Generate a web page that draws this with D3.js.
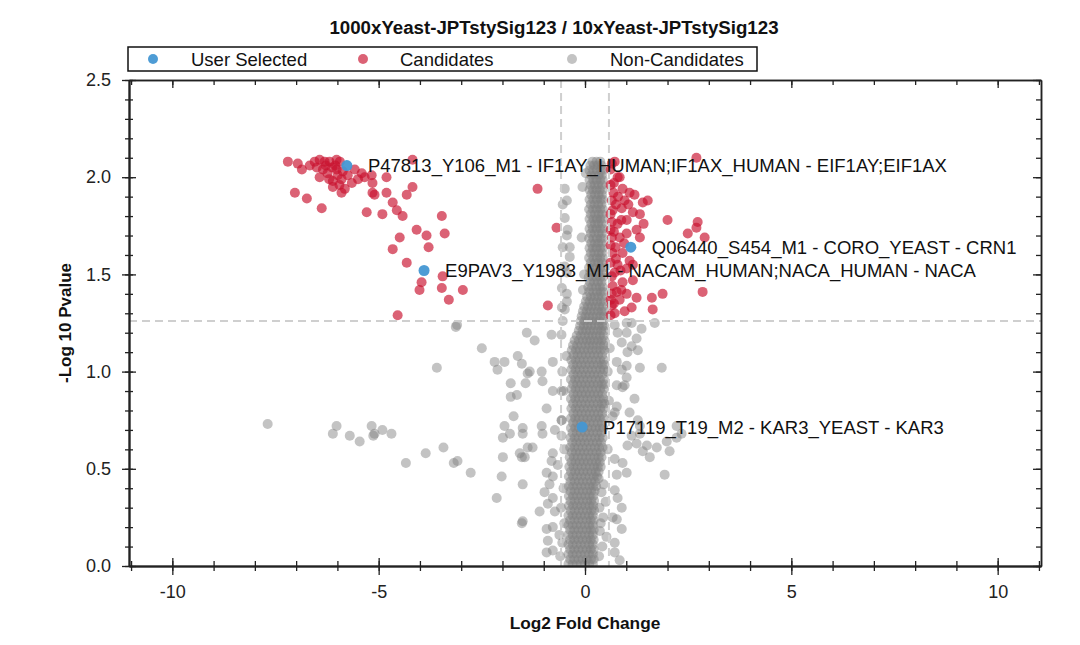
<!DOCTYPE html>
<html>
<head>
<meta charset="utf-8">
<script src="https://cdn.jsdelivr.net/npm/d3@7"></script>
<style>
  body { margin: 0; background: #fff; }
  svg { display: block; font-family: "Liberation Sans", Arial, sans-serif; }
</style>
</head>
<body>
<svg id="chart" width="1080" height="645"></svg>
<script>
// ---- data ----
const chartTitle = "1000xYeast-JPTstySig123 / 10xYeast-JPTstySig123";
const xLabel = "Log2 Fold Change";
const yLabel = "-Log 10 Pvalue";
const legendLabels = ["User Selected", "Candidates", "Non-Candidates"];

const xDomain = [-11.05, 11.05];
const yDomain = [0, 2.5];
const xTickValues = [-10, -5, 0, 5, 10];
const xMinorTicks = d3.range(-11, 12, 1);
const yTickValues = [0, 0.5, 1.0, 1.5, 2.0, 2.5];
const yMinorTicks = d3.range(0, 26, 1).map(d => d / 10);

const foldCut = 0.58;   // log2 fold change threshold
const pCut = 1.26;      // -log10 p threshold

const userSelected = [
  { x: -5.77, y: 2.06, label: "P47813_Y106_M1 - IF1AY_HUMAN;IF1AX_HUMAN - EIF1AY;EIF1AX" },
  { x: 1.11, y: 1.64, label: "Q06440_S454_M1 - CORO_YEAST - CRN1" },
  { x: -3.90, y: 1.52, label: "E9PAV3_Y1983_M1 - NACAM_HUMAN;NACA_HUMAN - NACA" },
  { x: -0.07, y: 0.715, label: "P17119_T19_M2 - KAR3_YEAST - KAR3" }
];

const candidatesLeft = [
  [-7.20,2.08],[-6.96,2.07],[-6.86,2.04],[-6.67,2.06],[-6.55,2.08],[-6.43,2.09],[-6.31,2.08],[-6.19,2.08],[-6.02,2.09],[-5.94,2.08],
  [-6.50,2.05],[-6.35,2.04],[-6.13,2.05],[-6.02,2.04],[-5.87,2.03],[-6.24,2.02],[-5.99,2.01],[-5.75,2.01],[-5.65,1.97],
  [-6.28,2.06],[-6.05,2.06],[-6.20,1.99],[-5.95,1.96],[-5.50,1.99],
  [-6.43,2.00],[-6.11,1.98],[-5.90,1.99],
  [-5.58,2.04],[-5.41,2.02],[-5.34,2.00],[-5.17,2.01],[-5.15,1.97],[-4.81,2.00],
  [-6.11,1.95],[-5.82,1.94],[-5.90,1.92],
  [-7.03,1.92],[-6.74,1.89],[-6.38,1.84],
  [-5.15,1.92],[-5.10,1.91],
  [-4.81,1.92],[-4.32,1.91],[-4.18,1.95],[-4.18,2.09],
  [-5.29,1.82],[-4.91,1.81],[-4.66,1.87],[-4.56,1.83],[-4.42,1.80],
  [-3.47,1.80],
  [-4.08,1.73],[-3.84,1.70],[-3.40,1.71],
  [-4.49,1.69],[-4.66,1.63],[-3.79,1.64],
  [-4.32,1.56],
  [-3.96,1.46],[-4.01,1.42],
  [-3.45,1.49],[-3.47,1.43],[-2.96,1.42],[-3.30,1.37],
  [-4.54,1.29],
  [-1.15,1.94],[-0.69,1.74],[-0.90,1.34]
];

const candidatesRight = [
  [2.70,2.10],[2.00,1.78],[2.73,1.77],[2.70,1.74],[2.49,1.71],[2.90,1.69],
  [2.85,1.41],[1.88,1.40],[1.62,1.38],[1.64,1.32],
  [0.65,2.07],[0.72,2.08],[0.79,2.00],[0.91,1.94],[1.08,1.92],[1.20,1.91],[1.40,1.87],[0.96,1.88],[0.65,1.88],[0.67,1.83],
  [0.89,1.84],[1.16,1.82],[1.33,1.81],[1.01,1.78],[0.79,1.76],[0.65,1.77],[1.25,1.73],[1.01,1.71],[0.84,1.69],[0.65,1.69],
  [1.33,1.69],[0.67,1.61],[0.91,1.61],[1.08,1.57],[1.01,1.53],[0.72,1.51],[0.65,1.49],[1.16,1.47],[0.91,1.46],[0.67,1.44],
  [0.65,1.40],[1.01,1.40],[1.25,1.38],[0.84,1.37],[0.65,1.34],[1.13,1.33],[0.72,1.30],[0.96,1.31],
  [0.62,2.04],[0.62,1.96],[0.69,1.92],[0.62,1.81],[0.62,1.65],[0.74,1.64],[0.62,1.56],[0.79,1.55],[0.62,1.37],[0.62,1.29],
  [0.84,2.00],[0.62,1.73],[0.77,1.41],[1.42,1.76],[1.52,1.88],[1.16,1.55],
  [0.70,1.97],[0.75,1.86],[0.88,1.78],[0.70,1.72],[0.86,1.52],[0.75,1.58],[0.95,1.66],[0.70,1.35],[0.88,1.42],[1.05,1.86],
  [0.80,1.90]
];

// scattered non-candidates
const nonCandidates = [
  [-7.69,0.73],[-6.02,0.72],[-6.11,0.68],[-5.70,0.67],[-5.46,0.64],[-5.17,0.72],[-5.13,0.67],[-5.10,0.68],[-4.91,0.70],[-4.69,0.68],
  [-4.34,0.53],[-3.86,0.58],[-3.43,0.61],[-3.18,0.53],[-3.09,0.54],[-2.77,0.48],
  [-3.59,1.02],[-2.50,1.12],[-3.13,1.23],[-3.10,1.24],
  [-2.19,1.05],[-1.95,1.05],[-2.12,1.01],[-1.63,1.08],[-1.53,1.04],[-1.41,1.20],[-1.39,0.99],
  [-1.80,0.94],[-1.65,0.88],[-1.80,0.87],[-1.44,0.94],
  [-1.73,0.77],[-1.95,0.72],[-1.99,0.66],[-1.82,0.68],[-1.51,0.71],[-1.51,0.68],
  [-1.58,0.58],[-1.53,0.56],[-1.39,0.61],[-1.99,0.56],[-2.02,0.46],[-1.51,0.42],[-2.14,0.35],[-1.51,0.23],[-1.53,0.22],
  [-1.22,1.16],[-0.81,1.19],[-0.57,1.19],[-0.78,1.05],[-1.34,1.00],[-1.05,1.00],[-1.03,0.95],[-0.78,0.90],[-0.57,0.90],
  [-0.93,0.81],[-1.05,0.72],[-1.03,0.68],[-0.73,0.70],[-0.57,0.75],[-0.57,0.67],[-1.27,0.61],[-1.46,0.56],[-0.78,0.58],
  [-0.81,0.54],[-0.93,0.48],[-0.78,0.46],[-0.86,0.42],[-0.98,0.38],[-0.78,0.35],[-0.90,0.32],[-0.73,0.28],[-1.10,0.28],
  [-0.93,0.19],[-0.78,0.20],[-0.90,0.13],[-0.78,0.08],[-0.93,0.07],
  [0.72,1.24],[1.01,1.25],[1.13,1.25],[1.69,1.25],[0.79,1.20],[1.01,1.20],[1.37,1.22],[1.25,1.17],[0.89,1.15],[1.13,1.13],
  [1.03,1.10],[1.28,1.11],[0.77,1.05],[1.01,1.03],[0.89,1.01],[1.01,0.97],[0.77,0.93],[0.91,0.92],[1.86,1.02],[1.20,0.86],
  [0.77,0.82],[0.72,0.79],[1.28,0.75],[1.33,0.68],[1.13,0.67],[1.03,0.62],[1.25,0.63],[1.50,0.62],[1.40,0.59],[1.57,0.56],
  [1.74,0.61],[1.98,0.64],[2.22,0.66],[2.05,0.59],[1.93,0.47],[0.72,0.55],[0.91,0.53],[1.01,0.48],[0.77,0.47],[0.72,0.39],
  [0.79,0.35],[0.89,0.30],[0.67,0.25],[0.77,0.24],[0.89,0.19],[0.72,0.12],[0.72,0.07],[0.84,0.03],
  [1.33,1.02],[0.96,0.93],[0.67,0.77],[1.08,0.79],[1.33,0.72],[2.22,0.72],[2.34,0.68],
  [0.33,0.45],[0.40,0.38],[0.35,0.30],[0.44,0.25],[0.36,0.18],[0.42,0.10],[0.34,0.05],[0.45,0.42],[0.38,0.22],[0.50,0.33],
  [0.52,0.15],[0.55,0.60],[0.58,0.85],[0.55,1.00],[0.60,1.12],
  [-0.52,0.40],[-0.58,0.30],[-0.50,0.22],[-0.55,0.12],[-0.60,0.05],[-0.50,0.60],[-0.56,0.75],[-0.52,0.90],[-0.55,1.00],
  [-0.45,1.08],[-0.66,0.52],[-0.62,0.16],
  [-0.49,1.94],[-0.54,1.86],[-0.49,1.79],[-0.44,1.70],[-0.54,1.64],[-0.37,1.59],[-0.44,1.51],[-0.44,1.40],[-0.49,1.32],
  [-0.54,1.26],[-0.06,1.95],[-0.08,1.69],[-0.44,1.88],[-0.42,1.73],[-0.37,1.64],[-0.49,1.54],[-0.56,1.43],[-0.44,1.36],
  [-0.56,1.33],[-0.02,1.50],[-0.05,1.42],[0.02,2.02]
];

// dense core of non-candidates: "pvalue: fold changes in hundredths"
const coreRows = [
  "2.08:18 28 37", "2.06:13 22 31 40", "2.035:11 20 29 38 43", "2.01:15 24 33 41",
  "1.985:11 20 28 37 43", "1.96:14 23 32 41", "1.935:11 19 28 36 43", "1.91:15 24 33 41",
  "1.885:11 20 29 38 43", "1.86:14 23 32 40", "1.835:10 19 28 37 43", "1.81:14 24 33 41",
  "1.785:11 20 29 37 43", "1.76:15 24 32 41", "1.735:11 19 28 37 43", "1.71:14 23 33 41",
  "1.685:10 20 29 38 43", "1.66:15 24 32 40", "1.635:11 19 28 37 43", "1.61:14 23 33 41",
  "1.585:10 20 29 37 43", "1.56:14 24 32 41", "1.535:10 19 28 37 43", "1.51:13 23 32 41",
  "1.485:9 19 28 37 43", "1.46:12 22 31 40", "1.435:8 17 27 36 43", "1.41:10 20 29 38 44",
  "1.385:5 14 23 32 41", "1.36:2 11 20 29 38 45", "1.335:-2 7 16 25 34 43", "1.31:-5 4 13 22 31 40 46",
  "1.285:-8 1 10 19 28 37 45", "1.26:-10 -1 8 17 26 35 44", "1.235:-12 -3 6 15 24 33 42 47",
  "1.21:-15 -6 3 12 21 30 39 46", "1.185:-20 -10 0 9 18 27 36 45", "1.16:-25 -15 -5 4 13 22 31 40 47",
  "1.135:-29 -19 -9 1 10 19 28 37 46",
  "1.11:-32 -22 -12 -2 8 18 28 38 47", "1.085:-28 -18 -8 2 12 22 32 42", "1.06:-33 -23 -13 -3 7 17 27 37 46",
  "1.035:-29 -19 -9 1 11 21 31 41 47", "1.01:-33 -23 -13 -3 7 17 27 37 46", "0.985:-28 -18 -8 2 12 22 32 42",
  "0.96:-34 -24 -14 -4 6 16 26 36 46", "0.935:-29 -19 -9 1 11 21 31 41 47", "0.91:-33 -23 -13 -3 7 17 27 37 46",
  "0.885:-28 -18 -8 2 12 22 32 42", "0.86:-34 -24 -14 -4 6 16 26 36 45", "0.835:-29 -19 -9 1 11 21 31 41 47",
  "0.81:-33 -23 -13 -3 7 17 27 37 46", "0.785:-28 -18 -8 2 12 22 32 42", "0.76:-34 -24 -14 -4 6 16 26 36 45",
  "0.735:-29 -19 -9 1 11 21 31 41", "0.71:-34 -24 -14 -4 6 16 26 36 44", "0.685:-30 -20 -10 0 10 20 30 40",
  "0.66:-35 -25 -15 -5 5 15 25 35 43", "0.635:-31 -21 -11 -1 9 19 29 39", "0.61:-36 -26 -16 -6 4 14 24 34 42",
  "0.585:-32 -22 -12 -2 8 18 28 38", "0.56:-37 -27 -17 -7 3 13 23 33 40", "0.535:-33 -23 -13 -3 7 17 27 36",
  "0.51:-38 -28 -18 -8 2 12 22 31 38",
  "0.485:-34 -24 -14 -4 6 16 26 33", "0.46:-39 -29 -19 -9 1 11 21 29", "0.435:-35 -25 -15 -5 5 15 24",
  "0.41:-39 -29 -19 -9 1 11 20 27", "0.385:-35 -25 -15 -5 5 15 23", "0.36:-39 -29 -19 -9 1 11 20",
  "0.335:-35 -25 -15 -5 5 15 22", "0.31:-39 -29 -19 -9 1 11 20", "0.285:-35 -25 -15 -5 5 15 22",
  "0.26:-40 -30 -20 -10 0 10 19", "0.235:-36 -26 -16 -6 4 14 21", "0.21:-40 -30 -20 -10 0 10 19",
  "0.185:-36 -26 -16 -6 4 14 21", "0.16:-40 -30 -20 -10 0 10 19", "0.135:-36 -26 -16 -6 4 14 21",
  "0.11:-40 -30 -20 -10 0 10 19", "0.085:-36 -26 -16 -6 4 14 21", "0.06:-40 -30 -20 -10 0 10 19",
  "0.035:-36 -26 -16 -6 4 14 21", "0.01:-40 -30 -20 -10 0 10 19"
];

// ---- chart ----
const W = 1080, H = 645;
const margin = { top: 80, right: 39, bottom: 79, left: 129 };

const colors = { user: "#4597d3", cand: "#c8102e", non: "#7f7f7f" };
const opac = { user: 0.95, cand: 0.66, non: 0.47 };

const svg = d3.select("#chart");

const x = d3.scaleLinear().domain(xDomain).range([margin.left, W - margin.right]);
const y = d3.scaleLinear().domain(yDomain).range([H - margin.bottom, margin.top]);

const corePoints = [];
coreRows.forEach(row => {
  const [pv, fcs] = row.split(":");
  fcs.trim().split(/\s+/).forEach(v => corePoints.push([+v / 100, +pv]));
});

svg.append("defs").append("clipPath").attr("id", "clip")
  .append("rect")
  .attr("x", margin.left).attr("y", margin.top)
  .attr("width", W - margin.left - margin.right)
  .attr("height", H - margin.top - margin.bottom);

const plot = svg.append("g").attr("clip-path", "url(#clip)");

// non-candidates
plot.append("g").selectAll("circle")
  .data(nonCandidates.concat(corePoints))
  .join("circle")
  .attr("cx", d => x(d[0]))
  .attr("cy", d => y(d[1]))
  .attr("r", 5)
  .attr("fill", colors.non)
  .attr("fill-opacity", opac.non);

// candidates
plot.append("g").selectAll("circle")
  .data(candidatesLeft.concat(candidatesRight))
  .join("circle")
  .attr("cx", d => x(d[0]))
  .attr("cy", d => y(d[1]))
  .attr("r", 5)
  .attr("fill", colors.cand)
  .attr("fill-opacity", opac.cand);

// user selected
plot.append("g").selectAll("circle")
  .data(userSelected)
  .join("circle")
  .attr("cx", d => x(d.x))
  .attr("cy", d => y(d.y))
  .attr("r", 5.5)
  .attr("fill", colors.user)
  .attr("fill-opacity", opac.user);

// threshold lines
const cut = svg.append("g")
  .attr("stroke", "#cfcfcf")
  .attr("stroke-width", 2)
  .attr("stroke-dasharray", "8,5");
[-foldCut, foldCut].forEach(v => {
  cut.append("line")
    .attr("x1", x(v)).attr("x2", x(v))
    .attr("y1", y(yDomain[1])).attr("y2", y(yDomain[0]));
});
cut.append("line")
  .attr("x1", x(xDomain[0])).attr("x2", x(xDomain[1]))
  .attr("y1", y(pCut)).attr("y2", y(pCut));

// axes
function styleAxis(g) {
  g.selectAll("path.domain").attr("stroke", "#222").attr("stroke-width", 1.5);
  g.selectAll(".tick line").attr("stroke", "#222").attr("stroke-width", 1.3);
  g.selectAll(".tick text").attr("fill", "#222").style("font-size", "18px");
}
const bottomY = H - margin.bottom;
const plainNum = d => String(d);

// bottom: ticks cross the axis line
svg.append("g").attr("transform", `translate(0,${bottomY})`)
  .call(d3.axisBottom(x).tickValues(xMinorTicks).tickSize(5).tickSizeOuter(0).tickFormat(""))
  .call(styleAxis);
svg.append("g").attr("transform", `translate(0,${bottomY})`)
  .call(d3.axisBottom(x).tickValues(xMinorTicks).tickSize(-5).tickSizeOuter(0).tickFormat(""))
  .call(styleAxis);
svg.append("g").attr("transform", `translate(0,${bottomY})`)
  .call(d3.axisBottom(x).tickValues(xTickValues).tickSize(9).tickSizeOuter(0).tickPadding(10).tickFormat(plainNum))
  .call(styleAxis);
svg.append("g").attr("transform", `translate(0,${bottomY})`)
  .call(d3.axisBottom(x).tickValues(xTickValues).tickSize(-8).tickSizeOuter(0).tickFormat(""))
  .call(styleAxis);

// left: ticks cross the axis line
svg.append("g").attr("transform", `translate(${margin.left},0)`)
  .call(d3.axisLeft(y).tickValues(yMinorTicks).tickSize(4).tickSizeOuter(0).tickFormat(""))
  .call(styleAxis);
svg.append("g").attr("transform", `translate(${margin.left},0)`)
  .call(d3.axisLeft(y).tickValues(yMinorTicks).tickSize(-4).tickSizeOuter(0).tickFormat(""))
  .call(styleAxis);
svg.append("g").attr("transform", `translate(${margin.left},0)`)
  .call(d3.axisLeft(y).tickValues(yTickValues).tickSize(7).tickSizeOuter(0).tickPadding(11).tickFormat(d3.format(".1f")))
  .call(styleAxis);
svg.append("g").attr("transform", `translate(${margin.left},0)`)
  .call(d3.axisLeft(y).tickValues(yTickValues).tickSize(-7).tickSizeOuter(0).tickFormat(""))
  .call(styleAxis);

// top and right: inward ticks only
svg.append("g").attr("transform", `translate(0,${margin.top})`)
  .call(d3.axisTop(x).tickValues(xMinorTicks).tickSize(-5).tickSizeOuter(0).tickFormat(""))
  .call(styleAxis);
svg.append("g").attr("transform", `translate(0,${margin.top})`)
  .call(d3.axisTop(x).tickValues(xTickValues).tickSize(-8).tickSizeOuter(0).tickFormat(""))
  .call(styleAxis);
svg.append("g").attr("transform", `translate(${W - margin.right},0)`)
  .call(d3.axisRight(y).tickValues(yMinorTicks).tickSize(-5).tickSizeOuter(0).tickFormat(""))
  .call(styleAxis);
svg.append("g").attr("transform", `translate(${W - margin.right},0)`)
  .call(d3.axisRight(y).tickValues(yTickValues).tickSize(-8).tickSizeOuter(0).tickFormat(""))
  .call(styleAxis);

// point labels
svg.append("g").selectAll("text")
  .data(userSelected)
  .join("text")
  .attr("x", d => x(d.x) + 21)
  .attr("y", d => y(d.y))
  .attr("dy", "0.36em")
  .attr("fill", "#111")
  .style("font-size", "18.5px")
  .text(d => d.label);

// title and axis titles
svg.append("text")
  .attr("x", 554).attr("y", 34)
  .attr("text-anchor", "middle")
  .attr("fill", "#111")
  .style("font-size", "18.7px").style("font-weight", "bold")
  .text(chartTitle);

svg.append("text")
  .attr("x", x(0)).attr("y", 629)
  .attr("text-anchor", "middle")
  .attr("fill", "#111")
  .style("font-size", "17.3px").style("font-weight", "bold")
  .text(xLabel);

svg.append("text")
  .attr("transform", `translate(71,${y(1.25)}) rotate(-90)`)
  .attr("text-anchor", "middle")
  .attr("fill", "#111")
  .style("font-size", "17px").style("font-weight", "bold")
  .text(yLabel);

// legend
const legend = svg.append("g");
legend.append("rect")
  .attr("x", 128).attr("y", 47)
  .attr("width", 629).attr("height", 24)
  .attr("fill", "#fff")
  .attr("stroke", "#111").attr("stroke-width", 1.5);

const legendStyle = [
  { fill: colors.user, op: opac.user },
  { fill: colors.cand, op: opac.cand },
  { fill: colors.non, op: opac.non }
];
const markerX = [153, 363, 572];
const textX = [191, 400, 610];
legendLabels.forEach((name, i) => {
  legend.append("circle")
    .attr("cx", markerX[i]).attr("cy", 59).attr("r", 5)
    .attr("fill", legendStyle[i].fill).attr("fill-opacity", legendStyle[i].op);
  legend.append("text")
    .attr("x", textX[i]).attr("y", 59).attr("dy", "0.36em")
    .attr("fill", "#111")
    .style("font-size", "18.5px")
    .text(name);
});
</script>
</body>
</html>
